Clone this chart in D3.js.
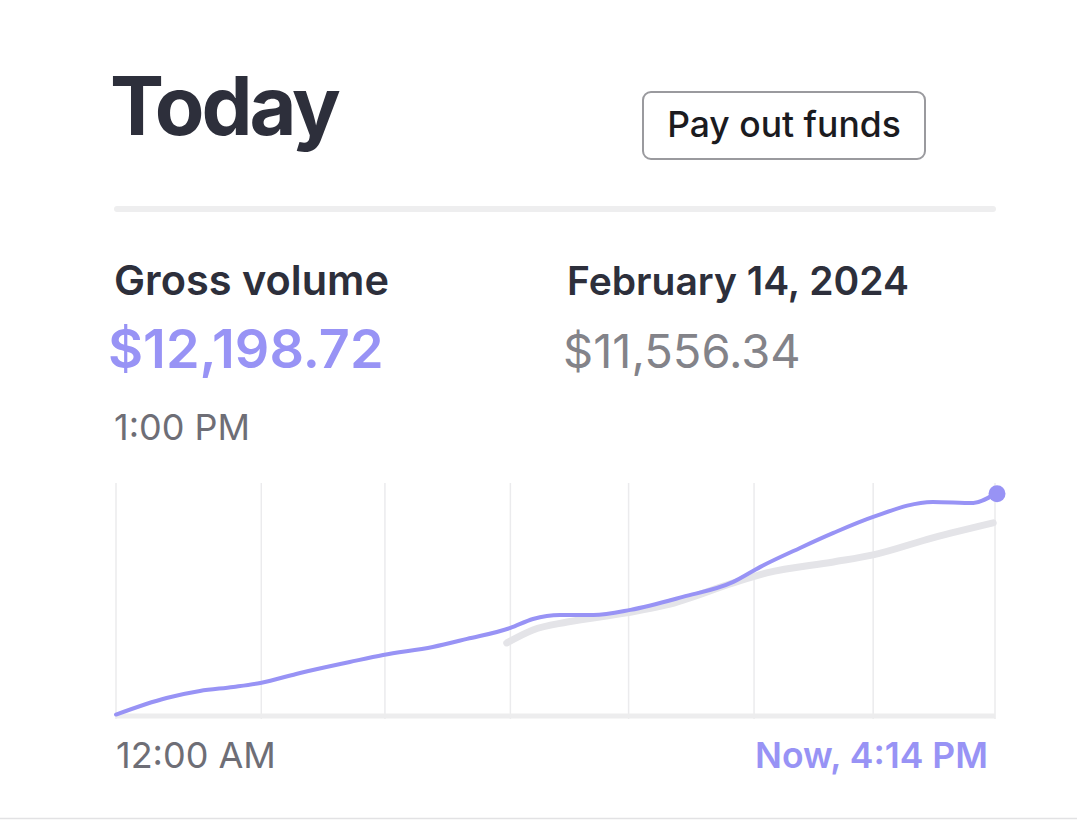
<!DOCTYPE html>
<html>
<head>
<meta charset="utf-8">
<script src="https://cdn.jsdelivr.net/npm/d3@7/dist/d3.min.js"></script>
<style>
  html, body { margin: 0; padding: 0; background: #fff; }
  svg { display: block; font-family: Inter, "Noto Sans", sans-serif; }
</style>
</head>
<body>
<svg id="chart" width="1077" height="820"></svg>
<script>
// minutes since midnight, dollars
const todayTimes  = [0, 56, 93, 130, 160, 204, 259, 296, 351, 389, 437, 462, 492, 529, 570, 628, 684, 714, 758, 795, 839, 905, 950, 974];
const todayValues = [100, 1250, 1730, 2010, 2290, 2980, 3740, 4230, 4780, 5340, 6100, 6720, 7000, 7000, 7350, 8250, 9290, 10330, 11640, 12680, 13790, 14830, 14760, 15390];
const compareTimes  = [433, 462, 500, 566, 610, 684, 721, 795, 839, 905, 972];
const compareValues = [5060, 5960, 6510, 7140, 7690, 9220, 9910, 10670, 11160, 12340, 13380];
const gridTimes = [0, 161, 298, 437, 568, 707, 839, 974];
const xDomain = [0, 974];
const yDomain = [0, 16000];

const title = "Today";
const buttonLabel = "Pay out funds";
const seriesLabel = "Gross volume";
const seriesValue = "$12,198.72";
const seriesTime = "1:00 PM";
const compareLabel = "February 14, 2024";
const compareValue = "$11,556.34";
const startLabel = "12:00 AM";
const endLabel = "Now, 4:14 PM";

const svg = d3.select("#chart");
const purple = "#9893f5";
const dark = "#2d2f3b";

// header
svg.append("text").attr("x", 110).attr("y", 135).attr("font-size", 81).attr("font-weight", 700)
  .attr("fill", dark).attr("letter-spacing", -3).text(title);

svg.append("rect").attr("x", 643).attr("y", 92).attr("width", 282).attr("height", 67).attr("rx", 8)
  .attr("fill", "#fff").attr("stroke", "#9a9a9e").attr("stroke-width", 2);
svg.append("text").attr("x", 784).attr("y", 137).attr("text-anchor", "middle").attr("font-size", 35.5)
  .attr("font-weight", 500).attr("fill", "#1b1b1f").text(buttonLabel);

svg.append("line").attr("x1", 117).attr("x2", 993).attr("y1", 209).attr("y2", 209)
  .attr("stroke", "#eeeeef").attr("stroke-width", 6).attr("stroke-linecap", "round");

svg.append("text").attr("x", 114).attr("y", 295).attr("font-size", 41.5).attr("font-weight", 600)
  .attr("fill", dark).text(seriesLabel);
svg.append("text").attr("x", 108).attr("y", 368).attr("font-size", 54).attr("font-weight", 600)
  .attr("fill", purple).text(seriesValue);
svg.append("text").attr("x", 114).attr("y", 440).attr("font-size", 36).attr("font-weight", 400)
  .attr("fill", "#6e6e76").text(seriesTime);

svg.append("text").attr("x", 567).attr("y", 295).attr("font-size", 39).attr("font-weight", 600)
  .attr("fill", dark).text(compareLabel);
svg.append("text").attr("x", 563).attr("y", 368).attr("font-size", 47).attr("font-weight", 400)
  .attr("fill", "#838389").text(compareValue);

// chart
const x = d3.scaleLinear().domain(xDomain).range([116, 995]);
const y = d3.scaleLinear().domain(yDomain).range([716, 485]);

const g = svg.append("g");
g.selectAll("line.grid").data(gridTimes).join("line").attr("class", "grid")
  .attr("x1", d => x(d)).attr("x2", d => x(d)).attr("y1", 483).attr("y2", 719)
  .attr("stroke", "#ebebed").attr("stroke-width", 1.5);

g.append("line").attr("x1", x(xDomain[0])).attr("x2", x(xDomain[1])).attr("y1", y(0)).attr("y2", y(0))
  .attr("stroke", "#ededee").attr("stroke-width", 5);

const line = d3.line().x(d => x(d[0])).y(d => y(d[1])).curve(d3.curveMonotoneX);

g.append("path").datum(d3.zip(compareTimes, compareValues)).attr("d", line)
  .attr("fill", "none").attr("stroke", "#e4e4e8").attr("stroke-width", 7).attr("stroke-linecap", "round");

g.append("path").datum(d3.zip(todayTimes, todayValues)).attr("d", line)
  .attr("fill", "none").attr("stroke", purple).attr("stroke-width", 4).attr("stroke-linecap", "round");

const last = todayTimes.length - 1;
g.append("circle").attr("cx", x(todayTimes[last]) + 2).attr("cy", y(todayValues[last])).attr("r", 8.5).attr("fill", purple);

svg.append("text").attr("x", 116).attr("y", 768).attr("font-size", 36).attr("font-weight", 400)
  .attr("fill", "#6e6e76").text(startLabel);
svg.append("text").attr("x", 988).attr("y", 768).attr("text-anchor", "end").attr("font-size", 35.5)
  .attr("font-weight", 600).attr("fill", purple).text(endLabel);

svg.append("line").attr("x1", 0).attr("x2", 1077).attr("y1", 818.5).attr("y2", 818.5)
  .attr("stroke", "#e2e2e4").attr("stroke-width", 1.5);
</script>
</body>
</html>
